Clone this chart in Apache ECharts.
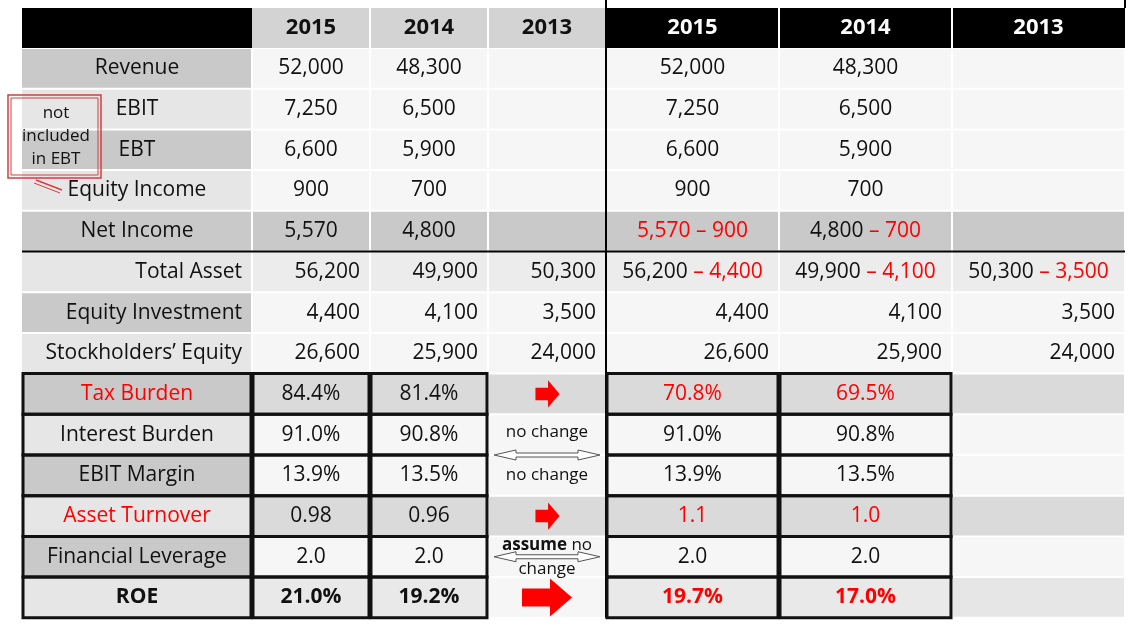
<!DOCTYPE html>
<html><head><meta charset="utf-8">
<script src="https://cdn.jsdelivr.net/npm/echarts@6/dist/echarts.min.js"></script>
<style>html,body{margin:0;padding:0;background:#fff}#c{width:1145px;height:625px}</style>
</head><body><div id="c"></div>
<script>
const headers = ['', '2015', '2014', '2013', '2015', '2014', '2013'];
const rowLabels = ['Revenue','EBIT','EBT','Equity Income','Net Income','Total Asset','Equity Investment','Stockholders\u2019 Equity',
  'Tax Burden','Interest Burden','EBIT Margin','Asset Turnover','Financial Leverage','ROE'];
const left2015 = ['52,000','7,250','6,600','900','5,570','56,200','4,400','26,600','84.4%','91.0%','13.9%','0.98','2.0','21.0%'];
const left2014 = ['48,300','6,500','5,900','700','4,800','49,900','4,100','25,900','81.4%','90.8%','13.5%','0.96','2.0','19.2%'];
const left2013 = ['','','','','','50,300','3,500','24,000','','','','','',''];
const right2015 = ['52,000','7,250','6,600','900','{r|5,570 \u2013 900}','56,200 {r|\u2013 4,400}','4,400','26,600','{r|70.8%}','91.0%','13.9%','{r|1.1}','2.0','{rb|19.7%}'];
const right2014 = ['48,300','6,500','5,900','700','4,800 {r|\u2013 700}','49,900 {r|\u2013 4,100}','4,100','25,900','{r|69.5%}','90.8%','13.5%','{r|1.0}','2.0','{rb|17.0%}'];
const right2013 = ['','','','','','50,300 {r|\u2013 3,500}','3,500','24,000','','','','','',''];
const redLabels = ['Tax Burden','Asset Turnover'];
const boldRows = ['ROE'];

const X = [22,252,370,488,606,779,952,1125];
const Y0 = 48, RH = 40.7;
const G = '#c9c9c9', L = '#e6e6e6', W = '#f6f6f6', M = '#dadada';
const labelFill = [G,L,G,L,G,L,G,L,G,L,G,L,G,L];
const dataFill  = [W,W,W,W,G,'#ececec',W,W,M,W,W,M,W,'#e9e9e9'];
const midFill   = [W,W,W,W,G,'#ececec',W,W,M,W,W,M,W,W];
const FONT = '"Open Sans", "Noto Sans", sans-serif';
const els = [];
function rect(x0,y0,x1,y1,fill,z){els.push({type:'rect',shape:{x:x0,y:y0,width:x1-x0,height:y1-y0},style:{fill:fill},z:z||1});}
function text(t,x,y,align,color,bold,size){
  els.push({type:'text',x:x,y:y,z:5,style:{text:t,x:0,y:0,align:align,verticalAlign:'middle',
    font:(bold?'bold ':'')+(size||21)+'px '+FONT,fill:color||'#111',
    rich:{r:{fill:'#ff0000',font:(bold?'bold ':'')+(size||21)+'px '+FONT},rb:{fill:'#ff0000',font:'bold '+(size||21)+'px '+FONT}}}});
}
rect(X[0],8,X[1],Y0,'#000');
for(let c=1;c<7;c++){
  const dark=c>=4;
  rect(X[c]+(c>1?1:0),8,X[c+1]-(c<6?1:0),Y0,dark?'#000':'#d3d3d3');
  text(headers[c],(X[c]+X[c+1])/2,28,'center',dark?'#fff':'#111',true,22);
}
const cols=[left2015,left2014,left2013,right2015,right2014,right2013];
rowLabels.forEach((lab,i)=>{
  const y0=Y0+i*RH, y1=y0+RH, ym=(y0+y1)/2;
  rect(X[0],y0+1,X[1]-1,y1-1,labelFill[i]);
  for(let c=1;c<7;c++){
    let f = (c==3||c==6)?midFill[i]:dataFill[i];
    if(c==6 && i>=8 && i!=8 && i!=11) f=(i==13?'#e6e6e6':W);
    rect(X[c]+1,y0+1,X[c+1]-1,y1-1,f);
  }
  const rightAl = (i>=5&&i<=7);
  const red = redLabels.includes(lab), bold=boldRows.includes(lab);
  if(rightAl) text(lab,X[1]-10,ym,'right','#111');
  else text(lab,(X[0]+X[1])/2,ym,'center',red?'#ff0000':'#111',bold);
  cols.forEach((arr,k)=>{
    const c=k+1; if(!arr[i]) return;
    if(rightAl && !(i==5 && c>=4)) text(arr[i],X[c+1]-10,ym,'right','#111');
    else text(arr[i],(X[c]+X[c+1])/2,ym,'center','#111',bold);
  });
});
const yEnd=Y0+14*RH;
els.push({type:'line',shape:{x1:X[0],y1:Y0+5*RH,x2:X[7],y2:Y0+5*RH},style:{stroke:'#000',lineWidth:2},z:6});
els.push({type:'line',shape:{x1:X[4],y1:0,x2:X[4],y2:yEnd},style:{stroke:'#000',lineWidth:2},z:6});
els.push({type:'line',shape:{x1:X[7],y1:0,x2:X[7],y2:8},style:{stroke:'#000',lineWidth:2},z:6});
for(let i=8;i<14;i++){
  const y0=Y0+i*RH;
  [[0,1],[1,2],[2,3],[4,5],[5,6]].forEach(([a,b])=>{
    els.push({type:'rect',shape:{x:X[a]+1,y:y0,width:X[b]-X[a]-2,height:RH},style:{fill:'none',stroke:'#111',lineWidth:3},z:7});
  });
}
const mx=(X[3]+X[4])/2;
function redArrow(cy,s){
  els.push({type:'polygon',z:8,shape:{points:[[mx-11*s,cy-6*s],[mx+1*s,cy-6*s],[mx+1*s,cy-13*s],[mx+12*s,cy],[mx+1*s,cy+13*s],[mx+1*s,cy+6*s],[mx-11*s,cy+6*s]]},style:{fill:'#ff0000'}});
}
redArrow(Y0+8.5*RH,1.05); redArrow(Y0+11.5*RH,1.05);
const ry=Y0+13.5*RH;
els.push({type:'polygon',z:8,shape:{points:[[mx-25,ry-9],[mx+3,ry-9],[mx+3,ry-19],[mx+25,ry],[mx+3,ry+19],[mx+3,ry+9],[mx-25,ry+9]]},style:{fill:'#ff0000'}});
function dblArrow(cy){
  const a=X[3]+6,b=X[4]-6;
  els.push({type:'polygon',z:8,shape:{points:[[a,cy],[a+22,cy-5],[a+22,cy-2],[b-22,cy-2],[b-22,cy-5],[b,cy],[b-22,cy+5],[b-22,cy+2],[a+22,cy+2],[a+22,cy+5]]},style:{fill:'#fff',stroke:'#555',lineWidth:1}});
}
dblArrow(Y0+10*RH); dblArrow(Y0+12.5*RH);
text('no change',mx,Y0+9.5*RH-2,'center','#111',false,17);
text('no change',mx,Y0+10.5*RH,'center','#111',false,17);
text('{b|assume} no',mx,Y0+12.5*RH-12,'center','#111',false,17);
els[els.length-1].style.rich.b={font:'bold 17px '+FONT,fill:'#111'};
text('change',mx,Y0+12.5*RH+12,'center','#111',false,17);
els.push({type:'rect',z:9,shape:{x:8,y:95,width:93,height:83},style:{fill:'none',stroke:'#d04040',lineWidth:1.5}});
els.push({type:'rect',z:9,shape:{x:11,y:98,width:87,height:77},style:{fill:'none',stroke:'#d04040',lineWidth:1}});
els.push({type:'line',z:9,shape:{x1:36,y1:180,x2:62,y2:190},style:{stroke:'#d04040',lineWidth:1.5}});
els.push({type:'line',z:9,shape:{x1:34,y1:183,x2:60,y2:193},style:{stroke:'#d04040',lineWidth:1}});
text('not',56,113,'center','#111',false,17);
text('included',56,136,'center','#111',false,17);
text('in EBT',56,159,'center','#111',false,17);

const chart=echarts.init(document.getElementById('c'));
chart.setOption({animation:false,graphic:{elements:els}});
</script></body></html>
